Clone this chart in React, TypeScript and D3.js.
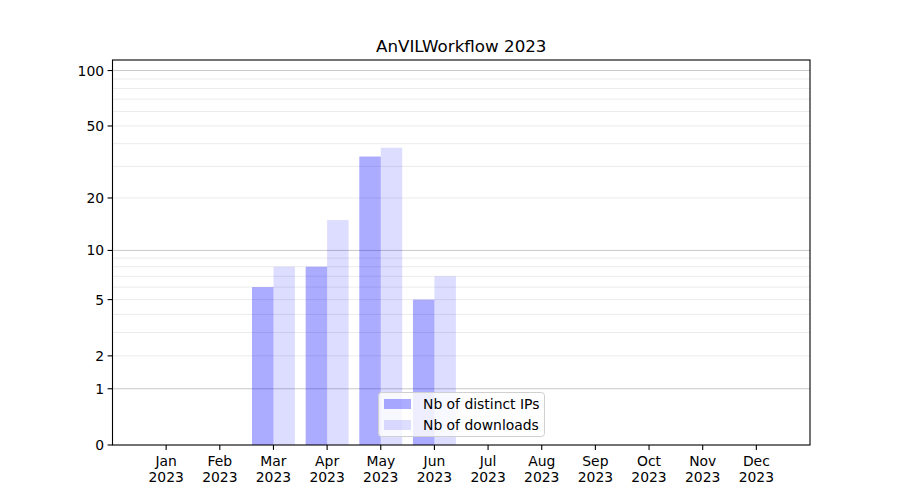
import React from "react";
import * as d3 from "d3";

const title = "AnVILWorkflow 2023";
const months = ["Jan", "Feb", "Mar", "Apr", "May", "Jun", "Jul", "Aug", "Sep", "Oct", "Nov", "Dec"];
const yearLabel = "2023";
const distinctIPs = [0, 0, 6, 8, 34, 5, 0, 0, 0, 0, 0, 0];
const downloads = [0, 0, 8, 15, 38, 7, 0, 0, 0, 0, 0, 0];
const yTickValues = [0, 1, 2, 5, 10, 20, 50, 100];
const majorGrid = [1, 10, 100];
const minorGrid = [2, 3, 4, 5, 6, 7, 8, 9, 20, 30, 40, 50, 60, 70, 80, 90];
const yMax = 114;
const seriesNames = ["Nb of distinct IPs", "Nb of downloads"];

const W = 900, H = 500;
const L = 112.5, R = 810, T = 60, B = 445;
const FONT = "DejaVu Sans, sans-serif";

export default function App() {
  const x = d3.scaleLinear().domain([-1, 12]).range([L, R]);
  const lg = d3.scaleLinear().domain([0, Math.log10(1 + yMax)]).range([B, T]);
  const y = (v: number) => lg(Math.log10(1 + v));
  const bw = x(0.4) - x(0);
  const tickFs = 13.9;

  return (
    <svg width={W} height={H} style={{ position: "absolute", left: 0, top: 0, background: "#fff" }} fontFamily={FONT}>
      <rect x={0} y={0} width={W} height={H} fill="#fff" />
      {minorGrid.map((v) => (
        <line key={"mi" + v} x1={L} x2={R} y1={y(v)} y2={y(v)} stroke="#ebebeb" strokeWidth={1} />
      ))}
      {majorGrid.map((v) => (
        <line key={"ma" + v} x1={L} x2={R} y1={y(v)} y2={y(v)} stroke="#c8c8c8" strokeWidth={1} />
      ))}
      {distinctIPs.map((v, i) =>
        v > 0 ? (
          <rect key={"ip" + i} x={x(i - 0.4)} width={bw} y={y(v)} height={B - y(v)} fill="blue" fillOpacity={0.33} />
        ) : null
      )}
      {downloads.map((v, i) =>
        v > 0 ? (
          <rect key={"dl" + i} x={x(i)} width={bw} y={y(v)} height={B - y(v)} fill="blue" fillOpacity={0.135} />
        ) : null
      )}
      <rect x={L} y={T} width={R - L} height={B - T} fill="none" stroke="#000" strokeWidth={1.1} />
      {yTickValues.map((v) => (
        <g key={"yt" + v}>
          <line x1={L - 4.9} x2={L} y1={y(v)} y2={y(v)} stroke="#000" strokeWidth={1.1} />
          <text x={L - 8.4} y={y(v)} dy="0.36em" textAnchor="end" fontSize={tickFs} fill="#000">
            {v}
          </text>
        </g>
      ))}
      {months.map((m, i) => (
        <g key={"xt" + i}>
          <line x1={x(i)} x2={x(i)} y1={B} y2={B + 4.9} stroke="#000" strokeWidth={1.1} />
          <text x={x(i)} y={466} textAnchor="middle" fontSize={tickFs} fill="#000">
            {m}
          </text>
          <text x={x(i)} y={482} textAnchor="middle" fontSize={tickFs} fill="#000">
            {yearLabel}
          </text>
        </g>
      ))}
      <text x={(L + R) / 2} y={51.5} textAnchor="middle" fontSize={16.7} fill="#000">
        {title}
      </text>
      <g>
        <rect x={378.5} y={392.5} width={166} height={44} rx={3} fill="#fff" fillOpacity={0.8} stroke="#d0d0d0" strokeWidth={1} />
        <rect x={384} y={399} width={27} height={10} fill="blue" fillOpacity={0.33} />
        <rect x={384} y={420} width={27} height={10} fill="blue" fillOpacity={0.135} />
        <text x={423} y={409} fontSize={tickFs} fill="#000">{seriesNames[0]}</text>
        <text x={423} y={430} fontSize={tickFs} fill="#000">{seriesNames[1]}</text>
      </g>
    </svg>
  );
}
